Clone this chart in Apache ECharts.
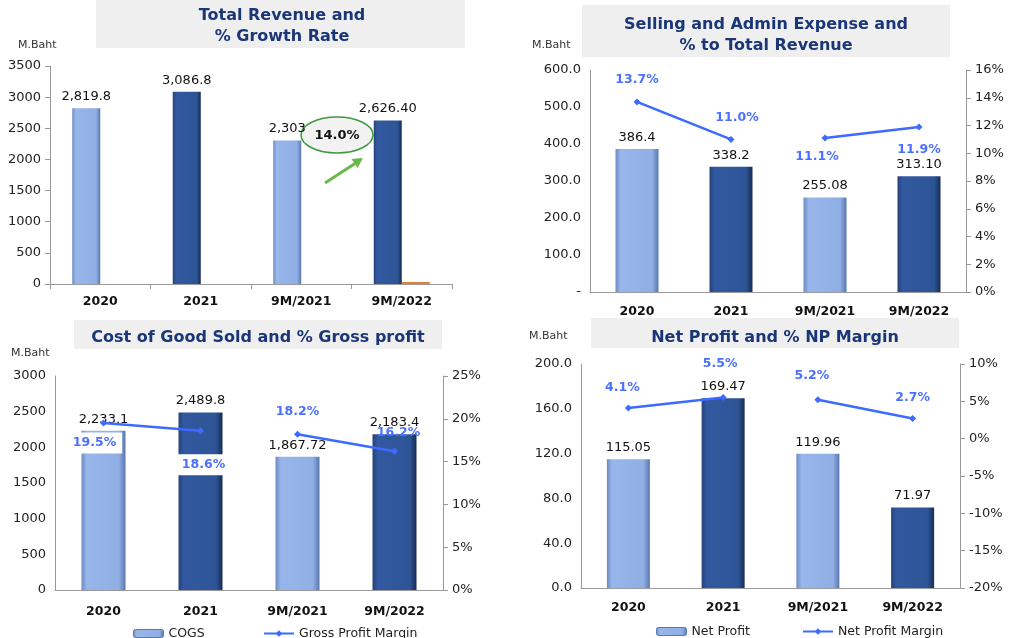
<!DOCTYPE html>
<html>
<head>
<meta charset="utf-8">
<script src="https://cdn.jsdelivr.net/npm/echarts@6/dist/echarts.min.js"></script>
<style>
  html, body { margin: 0; padding: 0; background: #fff; }
  #main { width: 1014px; height: 638px; }
</style>
</head>
<body>
<div id="main"></div>
<script>
// categories shared by all four panels
var categories = ['2020', '2021', '9M/2021', '9M/2022'];

// Total revenue and % growth
var revenue = [2819.8, 3086.8, 2303, 2626.40];
var revenueLabels = ['2,819.8', '3,086.8', '2,303', '2,626.40'];
var growthRate = ['-', '-', '-', 14.0];
var growthText = '14.0%';

// Selling and admin expense
var sgaExpense = [386.4, 338.2, 255.08, 313.10];
var sgaLabels = ['386.4', '338.2', '255.08', '313.10'];
var sgaPct = [13.7, 11.0, 11.1, 11.9];

// Cost of goods sold
var cogs = [2233.1, 2489.8, 1867.72, 2183.4];
var cogsLabels = ['2,233.1', '2,489.8', '1,867.72', '2,183.4'];
var grossMargin = [19.5, 18.6, 18.2, 16.2];

// Net profit
var netProfit = [115.05, 169.47, 119.96, 71.97];
var netProfitLabels = ['115.05', '169.47', '119.96', '71.97'];
var npMargin = [4.1, 5.5, 5.2, 2.7];

var chart = echarts.init(document.getElementById('main'));

var lightBar = new echarts.graphic.LinearGradient(0, 0, 1, 0, [
    {offset: 0, color: '#6c8bc3'},
    {offset: 0.12, color: '#98b6ea'},
    {offset: 0.85, color: '#8fafe5'},
    {offset: 1, color: '#5a77ab'}
]);
var darkBar = new echarts.graphic.LinearGradient(0, 0, 1, 0, [
    {offset: 0, color: '#254279'},
    {offset: 0.12, color: '#3259a0'},
    {offset: 0.85, color: '#2d5596'},
    {offset: 1, color: '#172b54'}
]);
function barColor(p) { return p.dataIndex % 2 ? darkBar : lightBar; }

var lineBlue = '#3d6bff';
var pctBlue = '#4a70ff';

// first pair / second pair of a 4 point series (the line is broken between 2021 and 9M/2021)
function firstPair(arr) { return [arr[0], arr[1], '-', '-']; }
function secondPair(arr) { return ['-', '-', arr[2], arr[3]]; }

function pctLabel(extra) {
    var l = {
        show: true, fontWeight: 'bold', fontSize: 12.5, color: pctBlue,
        formatter: function (p) { return p.value.toFixed(1) + '%'; }
    };
    for (var k in extra) l[k] = extra[k];
    return l;
}

// per point label placement for a line
function withLabels(data, labels) {
    return data.map(function (v, i) {
        if (v === '-') return v;
        return {value: v, label: labels[i]};
    });
}

function valueLabel(texts) {
    return {
        show: true, position: 'top', fontSize: 13, color: '#111',
        formatter: function (p) { return texts[p.dataIndex]; }
    };
}

function xAxisFor(grid, ticks, margin) {
    return {
        type: 'category', gridIndex: grid, data: categories,
        axisLine: {lineStyle: {color: '#999'}},
        axisTick: {show: ticks, length: 5, lineStyle: {color: '#999'}},
        axisLabel: {fontWeight: 'bold', fontSize: 12.5, color: '#111', margin: margin}
    };
}

function yAxisFor(grid, pos, min, max, step, fmt, ticks) {
    return {
        type: 'value', gridIndex: grid, position: pos, min: min, max: max, interval: step,
        splitLine: {show: false},
        axisLine: {show: true, lineStyle: {color: '#999'}},
        axisTick: {show: ticks, length: 5, lineStyle: {color: '#999'}},
        axisLabel: {fontSize: 13, color: '#222', formatter: fmt, margin: 9}
    };
}

var pctFmt = function (v) { return v + '%'; };
var oneDec = function (v) { return v.toFixed(1); };
var plain = function (v) { return String(v); };

var titleFont = 'bold 16px "DejaVu Sans"';
var titleColor = '#1b3676';

var option = {
    backgroundColor: '#fff',
    animation: false,
    textStyle: {fontFamily: 'DejaVu Sans'},
    grid: [
        {left: 50, top: 66, width: 402, height: 218},
        {left: 590, top: 70, width: 376, height: 222},
        {left: 55, top: 376, width: 388, height: 214},
        {left: 581, top: 364, width: 379, height: 224}
    ],
    xAxis: [
        xAxisFor(0, true, 11),
        xAxisFor(1, false, 13),
        xAxisFor(2, false, 15),
        xAxisFor(3, false, 13)
    ],
    yAxis: [
        yAxisFor(0, 'left', 0, 3500, 500, plain, true),
        yAxisFor(1, 'left', 0, 600, 100, function (v) { return v === 0 ? '-' : v.toFixed(1); }, false),
        yAxisFor(1, 'right', 0, 16, 2, pctFmt, true),
        yAxisFor(2, 'left', 0, 3000, 500, plain, false),
        yAxisFor(2, 'right', 0, 25, 5, pctFmt, true),
        yAxisFor(3, 'left', 0, 200, 40, oneDec, false),
        yAxisFor(3, 'right', -20, 10, 5, pctFmt, true)
    ],
    legend: [
        {data: [{name: 'COGS', itemStyle: {color: lightBar, borderColor: '#5a77ab', borderWidth: 1}}],
         left: 128, top: 622, itemWidth: 30, itemHeight: 8, textStyle: {fontSize: 12.5, color: '#222'}},
        {data: ['Gross Profit Margin'], left: 258, top: 622, itemWidth: 30, itemHeight: 8,
         textStyle: {fontSize: 12.5, color: '#222'}},
        {data: [{name: 'Net Profit', itemStyle: {color: lightBar, borderColor: '#5a77ab', borderWidth: 1}}],
         left: 651, top: 620, itemWidth: 30, itemHeight: 8, itemGap: 4, textStyle: {fontSize: 12.5, color: '#222'}},
        {data: ['Net Profit Margin'], left: 797, top: 620, itemWidth: 30, itemHeight: 8,
         textStyle: {fontSize: 12.5, color: '#222'}}
    ],
    series: [
        // Total revenue
        {name: 'Total Revenue', type: 'bar', xAxisIndex: 0, yAxisIndex: 0, data: revenue,
         barWidth: 28, barGap: '0%', itemStyle: {color: barColor}, label: valueLabel(revenueLabels)},
        {name: '% Growth', type: 'bar', xAxisIndex: 0, yAxisIndex: 0, data: growthRate,
         barWidth: 28, barMinHeight: 2, itemStyle: {color: '#ed7d31'}},

        // Selling and admin
        {name: 'SG&A', type: 'bar', xAxisIndex: 1, yAxisIndex: 1, data: sgaExpense,
         barWidth: 43, itemStyle: {color: barColor}, label: valueLabel(sgaLabels)},
        {name: '% to Total Revenue', type: 'line', xAxisIndex: 1, yAxisIndex: 2,
         data: withLabels(firstPair(sgaPct), [{position: 'top', distance: 12}, {position: 'top', distance: 12, offset: [6, 0]}]),
         symbol: 'diamond', symbolSize: 7, lineStyle: {width: 2.5, color: lineBlue}, itemStyle: {color: lineBlue},
         label: pctLabel({})},
        {name: '% to Total Revenue', type: 'line', xAxisIndex: 1, yAxisIndex: 2,
         data: withLabels(secondPair(sgaPct), [null, null, {position: 'bottom', distance: 9, offset: [-8, 0]}, {position: 'bottom', distance: 13}]),
         symbol: 'diamond', symbolSize: 7, lineStyle: {width: 2.5, color: lineBlue}, itemStyle: {color: lineBlue},
         label: pctLabel({})},

        // COGS
        {name: 'COGS', type: 'bar', xAxisIndex: 2, yAxisIndex: 3, data: cogs, z: 2,
         barWidth: 44, itemStyle: {color: barColor}, label: valueLabel(cogsLabels)},
        {name: 'Gross Profit Margin', type: 'line', xAxisIndex: 2, yAxisIndex: 4, z: 3,
         data: withLabels(firstPair(grossMargin), [
             {position: 'bottom', distance: 6, offset: [-9, 0], backgroundColor: '#fff', padding: [4, 6]},
             {position: 'bottom', distance: 20, offset: [3, 0], backgroundColor: '#fff', padding: [4, 6]}]),
         symbol: 'diamond', symbolSize: 7, lineStyle: {width: 2.5, color: lineBlue}, itemStyle: {color: lineBlue},
         label: pctLabel({})},
        {name: 'Gross Profit Margin', type: 'line', xAxisIndex: 2, yAxisIndex: 4, z: 3,
         data: withLabels(secondPair(grossMargin), [null, null, {position: 'top', distance: 12}, {position: 'top', distance: 9, offset: [4, 0]}]),
         symbol: 'diamond', symbolSize: 7, lineStyle: {width: 2.5, color: lineBlue}, itemStyle: {color: lineBlue},
         label: pctLabel({})},

        // Net profit
        {name: 'Net Profit', type: 'bar', xAxisIndex: 3, yAxisIndex: 5, data: netProfit,
         barWidth: 43, itemStyle: {color: barColor}, label: valueLabel(netProfitLabels)},
        {name: 'Net Profit Margin', type: 'line', xAxisIndex: 3, yAxisIndex: 6,
         data: withLabels(firstPair(npMargin), [{position: 'top', distance: 10, offset: [-6, 0]}, {position: 'top', distance: 24, offset: [-3, 0]}]),
         symbol: 'diamond', symbolSize: 7, lineStyle: {width: 2.5, color: lineBlue}, itemStyle: {color: lineBlue},
         label: pctLabel({})},
        {name: 'Net Profit Margin', type: 'line', xAxisIndex: 3, yAxisIndex: 6,
         data: withLabels(secondPair(npMargin), [null, null, {position: 'top', distance: 14, offset: [-6, 0]}, {position: 'top', distance: 11}]),
         symbol: 'diamond', symbolSize: 7, lineStyle: {width: 2.5, color: lineBlue}, itemStyle: {color: lineBlue},
         label: pctLabel({})}
    ],
    graphic: [
        // title boxes
        {type: 'rect', z: -1, shape: {x: 96, y: 0, width: 369, height: 48}, style: {fill: '#efefef'}},
        {type: 'rect', z: -1, shape: {x: 582, y: 5, width: 368, height: 52}, style: {fill: '#efefef'}},
        {type: 'rect', z: -1, shape: {x: 74, y: 320, width: 368, height: 29}, style: {fill: '#efefef'}},
        {type: 'rect', z: -1, shape: {x: 591, y: 318, width: 368, height: 30}, style: {fill: '#efefef'}},
        // titles
        {type: 'text', style: {text: 'Total Revenue and', x: 282, y: 16, textAlign: 'center', textVerticalAlign: 'middle', font: titleFont, fill: titleColor}},
        {type: 'text', style: {text: '% Growth Rate', x: 282, y: 37, textAlign: 'center', textVerticalAlign: 'middle', font: titleFont, fill: titleColor}},
        {type: 'text', style: {text: 'Selling and Admin Expense and', x: 766, y: 25, textAlign: 'center', textVerticalAlign: 'middle', font: titleFont, fill: titleColor}},
        {type: 'text', style: {text: '% to Total Revenue', x: 766, y: 46, textAlign: 'center', textVerticalAlign: 'middle', font: titleFont, fill: titleColor}},
        {type: 'text', style: {text: 'Cost of Good Sold and % Gross profit', x: 258, y: 338, textAlign: 'center', textVerticalAlign: 'middle', font: titleFont, fill: titleColor}},
        {type: 'text', style: {text: 'Net Profit and % NP Margin', x: 775, y: 338, textAlign: 'center', textVerticalAlign: 'middle', font: titleFont, fill: titleColor}},
        // unit labels
        {type: 'text', style: {text: 'M.Baht', x: 18, y: 45, textVerticalAlign: 'middle', font: '11px "DejaVu Sans"', fill: '#333'}},
        {type: 'text', style: {text: 'M.Baht', x: 532, y: 45, textVerticalAlign: 'middle', font: '11px "DejaVu Sans"', fill: '#333'}},
        {type: 'text', style: {text: 'M.Baht', x: 11, y: 353, textVerticalAlign: 'middle', font: '11px "DejaVu Sans"', fill: '#333'}},
        {type: 'text', style: {text: 'M.Baht', x: 529, y: 336, textVerticalAlign: 'middle', font: '11px "DejaVu Sans"', fill: '#333'}},
        // growth callout
        {type: 'ellipse', shape: {cx: 337, cy: 135, rx: 36, ry: 18}, style: {fill: '#f2f2f2', stroke: '#3f9a3f', lineWidth: 1.5}},
        {type: 'text', style: {text: growthText, x: 337, y: 136, textAlign: 'center', textVerticalAlign: 'middle', font: 'bold 13px "DejaVu Sans"', fill: '#111'}},
        {type: 'line', shape: {x1: 325, y1: 183, x2: 355, y2: 163.5}, style: {stroke: '#6ab84a', lineWidth: 3}},
        {type: 'polygon', shape: {points: [[363, 158], [357.5, 168], [351.5, 159]]}, style: {fill: '#6ab84a'}}
    ]
};

chart.setOption(option);
</script>
</body>
</html>
